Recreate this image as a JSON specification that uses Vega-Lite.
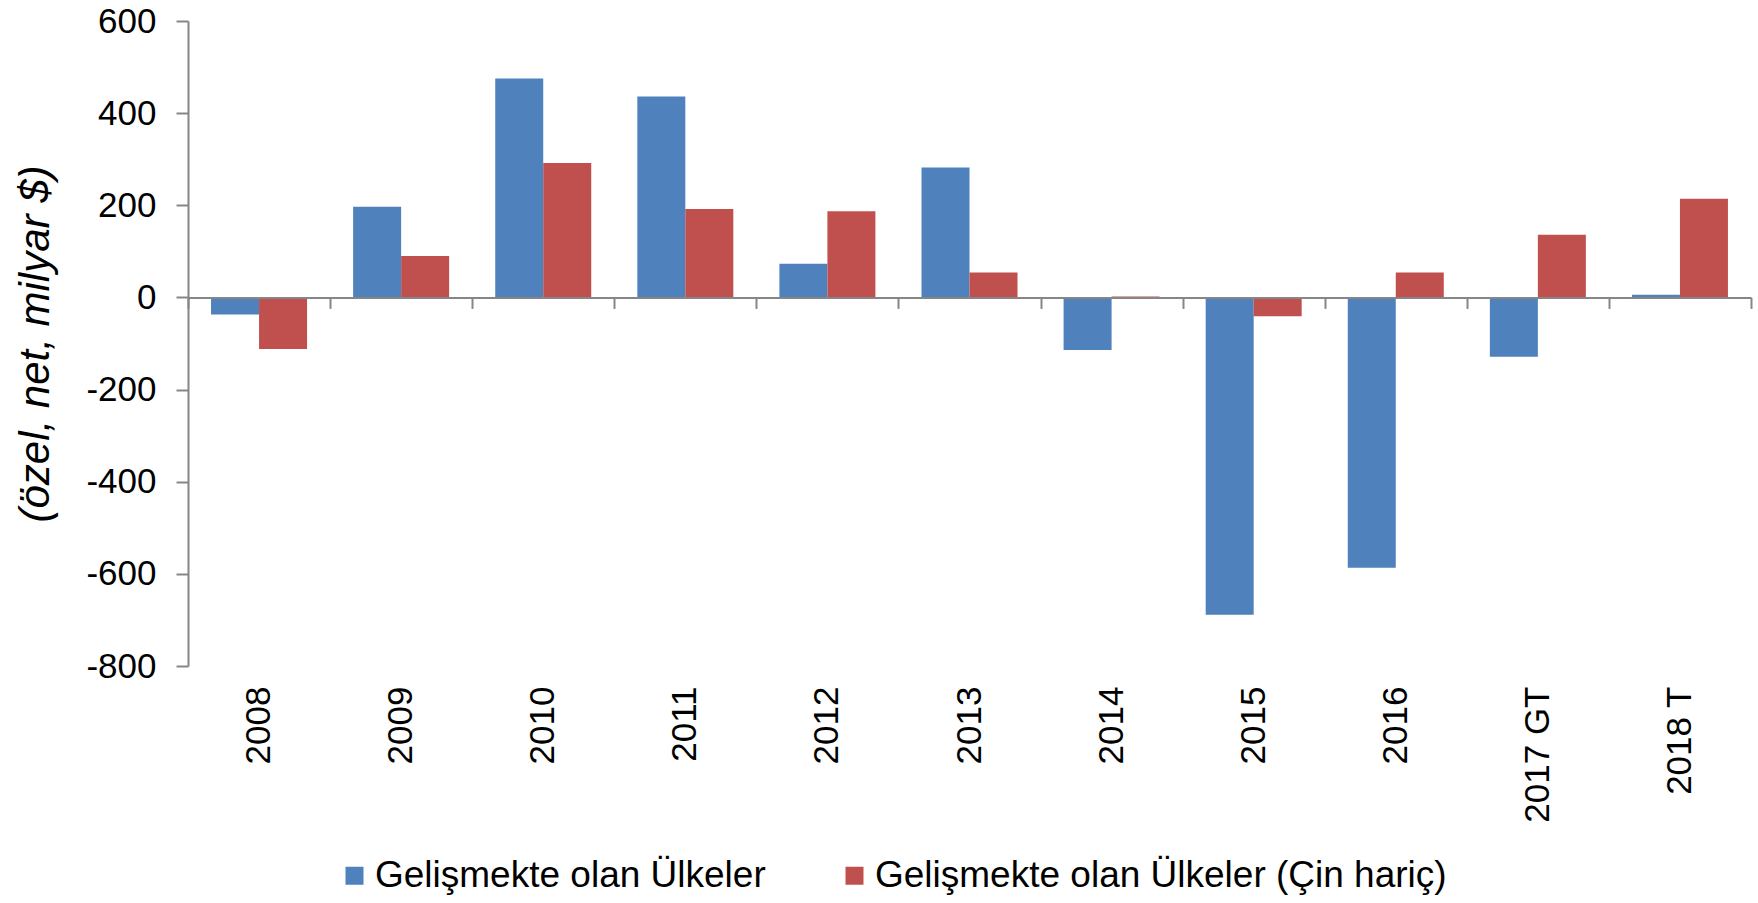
{
  "$schema": "https://vega.github.io/schema/vega-lite/v6.json",
  "autosize": "none",
  "width": 1563,
  "height": 645,
  "padding": {"left": 188, "top": 21, "right": 7, "bottom": 237},
  "background": "white",
  "config": {"view": {"stroke": null}, "font": "Liberation Sans"},
  "data": {
    "values": [
      {"year": "2008", "series": "Gelişmekte olan Ülkeler", "value": -37},
      {"year": "2008", "series": "Gelişmekte olan Ülkeler (Çin hariç)", "value": -112},
      {"year": "2009", "series": "Gelişmekte olan Ülkeler", "value": 197},
      {"year": "2009", "series": "Gelişmekte olan Ülkeler (Çin hariç)", "value": 90},
      {"year": "2010", "series": "Gelişmekte olan Ülkeler", "value": 475},
      {"year": "2010", "series": "Gelişmekte olan Ülkeler (Çin hariç)", "value": 292},
      {"year": "2011", "series": "Gelişmekte olan Ülkeler", "value": 436},
      {"year": "2011", "series": "Gelişmekte olan Ülkeler (Çin hariç)", "value": 192},
      {"year": "2012", "series": "Gelişmekte olan Ülkeler", "value": 73},
      {"year": "2012", "series": "Gelişmekte olan Ülkeler (Çin hariç)", "value": 187},
      {"year": "2013", "series": "Gelişmekte olan Ülkeler", "value": 282},
      {"year": "2013", "series": "Gelişmekte olan Ülkeler (Çin hariç)", "value": 54},
      {"year": "2014", "series": "Gelişmekte olan Ülkeler", "value": -114},
      {"year": "2014", "series": "Gelişmekte olan Ülkeler (Çin hariç)", "value": 2},
      {"year": "2015", "series": "Gelişmekte olan Ülkeler", "value": -689},
      {"year": "2015", "series": "Gelişmekte olan Ülkeler (Çin hariç)", "value": -41},
      {"year": "2016", "series": "Gelişmekte olan Ülkeler", "value": -587},
      {"year": "2016", "series": "Gelişmekte olan Ülkeler (Çin hariç)", "value": 54},
      {"year": "2017 GT", "series": "Gelişmekte olan Ülkeler", "value": -129},
      {"year": "2017 GT", "series": "Gelişmekte olan Ülkeler (Çin hariç)", "value": 136},
      {"year": "2018 T", "series": "Gelişmekte olan Ülkeler", "value": 6},
      {"year": "2018 T", "series": "Gelişmekte olan Ülkeler (Çin hariç)", "value": 214}
    ]
  },
  "resolve": {"axis": {"x": "independent"}},
  "layer": [
    {
      "mark": {"type": "bar", "opacity": 0},
      "encoding": {
        "x": {"field": "year", "type": "nominal", "sort": null,
              "scale": {"paddingInner": 0, "paddingOuter": 0},
              "axis": {"title": null, "domain": false, "ticks": false, "labelAngle": 270,
                       "labelFontSize": 35, "labelColor": "black", "labelPadding": 20,
                       "labelFont": "Liberation Sans"}},
        "xOffset": {"field": "series", "type": "nominal",
                    "sort": ["Gelişmekte olan Ülkeler", "Gelişmekte olan Ülkeler (Çin hariç)"],
                    "scale": {"paddingInner": 0, "paddingOuter": 0.48}},
        "y": {"field": "value", "type": "quantitative"}
      }
    },
    {
      "mark": {"type": "bar"},
      "encoding": {
        "x": {"field": "year", "type": "nominal", "sort": null,
              "axis": {"title": null, "labels": false, "orient": "bottom", "offset": -368.6,
                       "domainColor": "#868686", "domainWidth": 2, "tickColor": "#868686",
                       "tickWidth": 2, "tickSize": 11, "tickBand": "extent", "zindex": 1}},
        "xOffset": {"field": "series", "type": "nominal",
                    "sort": ["Gelişmekte olan Ülkeler", "Gelişmekte olan Ülkeler (Çin hariç)"]},
        "y": {"field": "value", "type": "quantitative",
              "scale": {"domain": [-800, 600], "nice": false, "zero": false},
              "axis": {"title": "(özel, net, milyar $)", "values": [-800, -600, -400, -200, 0, 200, 400, 600],
                       "labelExpr": "toString(datum.value)",
                       "grid": false, "domainColor": "#868686", "domainWidth": 2,
                       "tickColor": "#868686", "tickWidth": 2, "tickSize": 12,
                       "labelFontSize": 35, "labelColor": "black", "labelPadding": 20,
                       "labelFont": "Liberation Sans",
                       "titleFont": "Liberation Sans", "titleFontStyle": "italic",
                       "titleFontWeight": "normal", "titleFontSize": 42, "titleColor": "black",
                       "titlePadding": 28}},
        "color": {"field": "series", "type": "nominal",
                  "scale": {"domain": ["Gelişmekte olan Ülkeler", "Gelişmekte olan Ülkeler (Çin hariç)"],
                            "range": ["#4F81BD", "#C0504D"]},
                  "legend": {"title": null, "orient": "none", "direction": "horizontal",
                             "legendX": 148, "legendY": 836,
                             "symbolType": "square", "symbolSize": 324, "symbolStrokeWidth": 0,
                             "labelFontSize": 37, "labelColor": "black", "labelFont": "Liberation Sans",
                             "labelLimit": 0, "columnPadding": 70, "labelOffset": 2}}
      }
    }
  ]
}
